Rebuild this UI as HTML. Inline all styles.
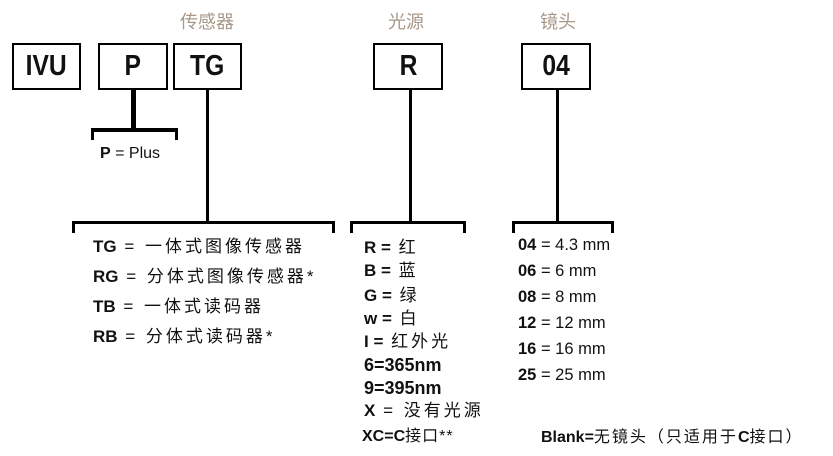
<!DOCTYPE html>
<html><head><meta charset="utf-8"><style>
body{margin:0;width:833px;height:456px;background:#fff;position:relative;overflow:hidden;font-family:"Liberation Sans","Noto Sans CJK SC",sans-serif;color:#111}
.b{position:absolute;border:2px solid #000;box-sizing:border-box;height:47px;top:43px;text-align:center;line-height:43px;font-weight:bold;font-size:29px}
.b span{display:inline-block;transform:scaleX(.85)}
.l{position:absolute;background:#000}
.t{position:absolute;font-size:17px;white-space:nowrap;line-height:20px}
.c{letter-spacing:3px}
.h{position:absolute;color:#a89888;font-size:18px;top:8px;white-space:nowrap}
b{font-weight:bold;letter-spacing:0}
</style></head><body>
<div class="h" style="left:180px">传感器</div>
<div class="h" style="left:388px">光源</div>
<div class="h" style="left:540px">镜头</div>
<div class="b" style="left:12px;width:69px"><span>IVU</span></div>
<div class="b" style="left:98px;width:70px"><span>P</span></div>
<div class="b" style="left:173px;width:69px"><span>TG</span></div>
<div class="b" style="left:373px;width:70px"><span>R</span></div>
<div class="b" style="left:521px;width:70px"><span>04</span></div>
<!-- P bracket -->
<div class="l" style="left:131px;top:90px;width:5px;height:40px"></div>
<div class="l" style="left:91px;top:128px;width:87px;height:4px"></div>
<div class="l" style="left:91px;top:128px;width:3px;height:12px"></div>
<div class="l" style="left:175px;top:128px;width:3px;height:12px"></div>
<div class="t" style="left:100px;top:144px;font-size:16px"><b>P</b> = Plus</div>
<!-- TG -->
<div class="l" style="left:206px;top:90px;width:3px;height:133px"></div>
<div class="l" style="left:72px;top:221px;width:263px;height:3px"></div>
<div class="l" style="left:72px;top:221px;width:3px;height:12px"></div>
<div class="l" style="left:332px;top:221px;width:3px;height:12px"></div>
<div class="t c" style="left:93px;top:237px"><b>TG</b> = 一体式图像传感器</div>
<div class="t c" style="left:93px;top:267px"><b>RG</b> = 分体式图像传感器*</div>
<div class="t c" style="left:93px;top:297px"><b>TB</b> = 一体式读码器</div>
<div class="t c" style="left:93px;top:327px"><b>RB</b> = 分体式读码器*</div>
<!-- R -->
<div class="l" style="left:409px;top:90px;width:3px;height:133px"></div>
<div class="l" style="left:350px;top:221px;width:116px;height:3px"></div>
<div class="l" style="left:350px;top:221px;width:3px;height:12px"></div>
<div class="l" style="left:463px;top:221px;width:3px;height:12px"></div>
<div class="t c" style="left:364px;top:238px"><b>R =</b> 红</div>
<div class="t c" style="left:364px;top:261px"><b>B =</b> 蓝</div>
<div class="t c" style="left:364px;top:286px"><b>G =</b> 绿</div>
<div class="t c" style="left:364px;top:309px"><b>w =</b> 白</div>
<div class="t c" style="left:364px;top:332px"><b>I =</b> 红外光</div>
<div class="t" style="left:364px;top:355px;font-size:18px"><b>6=365nm</b></div>
<div class="t" style="left:364px;top:378px;font-size:18px"><b>9=395nm</b></div>
<div class="t c" style="left:364px;top:401px"><b>X</b> = 没有光源</div>
<div class="t" style="left:362px;top:427px;font-size:16px;letter-spacing:1px"><b>XC=C</b>接口**</div>
<!-- 04 -->
<div class="l" style="left:556px;top:90px;width:3px;height:133px"></div>
<div class="l" style="left:512px;top:221px;width:102px;height:3px"></div>
<div class="l" style="left:512px;top:221px;width:3px;height:12px"></div>
<div class="l" style="left:611px;top:221px;width:3px;height:12px"></div>
<div class="t" style="left:518px;top:235px;font-size:16.5px"><b>04</b> = 4.3 mm</div>
<div class="t" style="left:518px;top:261px;font-size:16.5px"><b>06</b> = 6 mm</div>
<div class="t" style="left:518px;top:287px;font-size:16.5px"><b>08</b> = 8 mm</div>
<div class="t" style="left:518px;top:313px;font-size:16.5px"><b>12</b> = 12 mm</div>
<div class="t" style="left:518px;top:339px;font-size:16.5px"><b>16</b> = 16 mm</div>
<div class="t" style="left:518px;top:365px;font-size:16.5px"><b>25</b> = 25 mm</div>
<div class="t" style="left:541px;top:428px;font-size:16px;letter-spacing:2px"><b>Blank=</b>无镜头（只适用于<b>C</b>接口）</div>
</body></html>
